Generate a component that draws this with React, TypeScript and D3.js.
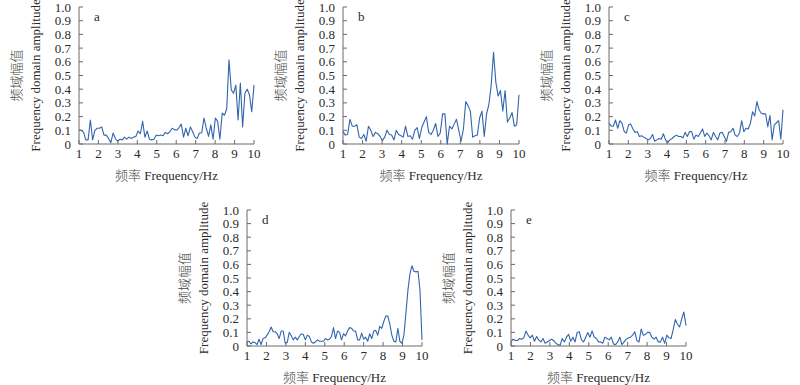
import React from "react";
import * as d3 from "d3";

// Frequency-domain amplitude, sampled evenly from 1 Hz to 10 Hz
const AMP_A = [
  0.10, 0.10, 0.085, 0.03, 0.03, 0.175, 0.03, 0.10, 0.115, 0.115,
  0.125, 0.065, 0.065, 0.04, 0.01, 0.08, 0.04, 0.02, 0.035, 0.03,
  0.05, 0.035, 0.05, 0.04, 0.05, 0.055, 0.095, 0.075, 0.165, 0.05,
  0.095, 0.035, 0.03, 0.035, 0.065, 0.06, 0.065, 0.06, 0.085, 0.075,
  0.09, 0.115, 0.105, 0.10, 0.12, 0.145, 0.05, 0.115, 0.06, 0.125,
  0.09, 0.05, 0.04, 0.08, 0.08, 0.19, 0.115, 0.055, 0.14, 0.035,
  0.19, 0.165, 0.035, 0.225, 0.21, 0.255, 0.615, 0.395, 0.37, 0.43,
  0.175, 0.445, 0.125, 0.37, 0.40, 0.36, 0.235, 0.43,
];

const AMP_B = [
  0.09, 0.065, 0.07, 0.18, 0.13, 0.13, 0.14, 0.05, 0.04, 0.07,
  0.02, 0.13, 0.10, 0.055, 0.085, 0.075, 0.055, 0.025, 0.05, 0.10,
  0.07, 0.065, 0.03, 0.10, 0.07, 0.06, 0.05, 0.13, 0.055, 0.06,
  0.035, 0.10, 0.12, 0.04, 0.12, 0.16, 0.20, 0.085, 0.07, 0.10,
  0.15, 0.055, 0.08, 0.22, 0.22, 0.0, 0.13, 0.11, 0.145, 0.18,
  0.10, 0.02, 0.11, 0.31, 0.28, 0.24, 0.05, 0.06, 0.065, 0.19,
  0.24, 0.055, 0.22, 0.29, 0.43, 0.67, 0.45, 0.35, 0.39, 0.24,
  0.39, 0.16, 0.19, 0.23, 0.13, 0.14, 0.36,
];

const AMP_C = [
  0.15, 0.13, 0.13, 0.175, 0.115, 0.17, 0.15, 0.09, 0.08, 0.14,
  0.145, 0.11, 0.085, 0.09, 0.055, 0.06, 0.05, 0.04, 0.03, 0.04,
  0.07, 0.02, 0.03, 0.04, 0.035, 0.075, 0.03, 0.01, 0.03, 0.04,
  0.055, 0.065, 0.055, 0.055, 0.045, 0.085, 0.055, 0.09, 0.09, 0.035,
  0.065, 0.055, 0.08, 0.11, 0.055, 0.08, 0.06, 0.03, 0.085, 0.055,
  0.03, 0.08, 0.085, 0.055, 0.02, 0.085, 0.09, 0.115, 0.065, 0.055,
  0.08, 0.17, 0.09, 0.115, 0.11, 0.15, 0.235, 0.205, 0.31, 0.25,
  0.225, 0.22, 0.22, 0.125, 0.21, 0.03, 0.14, 0.155, 0.17, 0.035,
  0.25,
];

const AMP_D = [
  0.03, 0.035, 0.015, 0.03, 0.025, 0.01, 0.05, 0.01, 0.055, 0.06,
  0.08, 0.105, 0.14, 0.105, 0.105, 0.09, 0.055, 0.11, 0.11, 0.02,
  0.025, 0.10, 0.075, 0.045, 0.065, 0.045, 0.07, 0.09, 0.085, 0.045,
  0.08, 0.07, 0.03, 0.02, 0.03, 0.045, 0.035, 0.035, 0.035, 0.055,
  0.045, 0.05, 0.07, 0.135, 0.055, 0.11, 0.10, 0.045, 0.09, 0.075,
  0.11, 0.135, 0.13, 0.11, 0.11, 0.045, 0.045, 0.095, 0.05, 0.065,
  0.035, 0.09, 0.055, 0.11, 0.115, 0.08, 0.145, 0.13, 0.18, 0.22,
  0.22, 0.16, 0.08, 0.035, 0.03, 0.13, 0.035, 0.02, 0.08, 0.24,
  0.41, 0.53, 0.59, 0.55, 0.545, 0.55, 0.41, 0.045,
];

const AMP_E = [
  0.03, 0.05, 0.04, 0.04, 0.055, 0.05, 0.06, 0.11, 0.08, 0.06,
  0.08, 0.035, 0.07, 0.045, 0.03, 0.055, 0.02, 0.03, 0.04, 0.05,
  0.04, 0.02, 0.01, 0.005, 0.055, 0.03, 0.065, 0.085, 0.035, 0.065,
  0.03, 0.10, 0.105, 0.045, 0.03, 0.065, 0.10, 0.065, 0.11, 0.065,
  0.055, 0.03, 0.03, 0.02, 0.065, 0.055, 0.045, 0.065, 0.015, 0.01,
  0.03, 0.065, 0.01, 0.03, 0.05, 0.06, 0.065, 0.08, 0.105, 0.04,
  0.03, 0.125, 0.08, 0.085, 0.10, 0.10, 0.065, 0.05, 0.065, 0.03,
  0.03, 0.065, 0.02, 0.08, 0.06, 0.055, 0.12, 0.195, 0.16, 0.14,
  0.20, 0.25, 0.15,
];

const X_TICKS = [1, 2, 3, 4, 5, 6, 7, 8, 9, 10];
const Y_TICKS = [0, 0.1, 0.2, 0.3, 0.4, 0.5, 0.6, 0.7, 0.8, 0.9, 1.0];
const Y_TICK_LABELS = ["0", "0.1", "0.2", "0.3", "0.4", "0.5", "0.6", "0.7", "0.8", "0.9", "1.0"];
const PANEL_LABELS = ["a", "b", "c", "d", "e"];
const SERIES = [AMP_A, AMP_B, AMP_C, AMP_D, AMP_E];

const X_TITLE_CN = "频率";
const X_TITLE_EN = "Frequency/Hz";
const Y_TITLE_CN = "频域幅值";
const Y_TITLE_EN = "Frequency domain amplitude";

// layout (plot-area boxes)
const BOXES = [
  { left: 79, right: 254, top: 7, bottom: 144 },
  { left: 343, right: 519, top: 7, bottom: 144 },
  { left: 609, right: 783, top: 7, bottom: 144 },
  { left: 247, right: 422, top: 210, bottom: 346 },
  { left: 511, right: 686, top: 210, bottom: 346 },
];

const FONT = "'Liberation Serif', 'Times New Roman', serif";
const CJK_FONT = "'Noto Sans CJK SC', sans-serif";
const LINE_COLOR = "#3265ad";
const AXIS_COLOR = "#6b6b6b";
const TEXT_COLOR = "#2a2a2a";

function Panel({ idx }: { idx: number }) {
  const box = BOXES[idx];
  const data = SERIES[idx];
  const n = data.length;
  const x = d3.scaleLinear().domain([1, 10]).range([box.left, box.right]);
  const y = d3.scaleLinear().domain([0, 1]).range([box.bottom, box.top]);
  const line = d3
    .line<number>()
    .x((_, i) => x(1 + (9 * i) / (n - 1)))
    .y((d) => y(d));
  const midY = (box.top + box.bottom) / 2;
  const midX = (box.left + box.right) / 2;
  return (
    <g>
      <line x1={box.left} x2={box.left} y1={y(1)} y2={y(0)} stroke={AXIS_COLOR} strokeWidth={1} />
      <line x1={x(1)} x2={x(10)} y1={y(0)} y2={y(0)} stroke={AXIS_COLOR} strokeWidth={1} />
      {Y_TICKS.map((t, i) => (
        <g key={"y" + i}>
          <line x1={box.left} x2={box.left + 4} y1={y(t)} y2={y(t)} stroke={AXIS_COLOR} strokeWidth={1} />
          <text x={box.left - 8} y={y(t)} dy="0.35em" textAnchor="end" fontSize={13} fontFamily={FONT} fill={TEXT_COLOR}>
            {Y_TICK_LABELS[i]}
          </text>
        </g>
      ))}
      {X_TICKS.map((t) => (
        <g key={"x" + t}>
          <line x1={x(t)} x2={x(t)} y1={y(0)} y2={y(0) - 4} stroke={AXIS_COLOR} strokeWidth={1} />
          <text x={x(t)} y={y(0) + 14} textAnchor="middle" fontSize={13} fontFamily={FONT} fill={TEXT_COLOR}>
            {t}
          </text>
        </g>
      ))}
      <path d={line(data) || ""} fill="none" stroke={LINE_COLOR} strokeWidth={1.1} strokeLinejoin="round" />
      <text x={box.left + 15} y={box.top + 14} fontSize={13} fontFamily={FONT} fill={TEXT_COLOR}>
        {PANEL_LABELS[idx]}
      </text>
      <text
        transform={`translate(${box.left - 58},${midY}) rotate(-90)`}
        textAnchor="middle"
        fontSize={13}
        fontFamily={CJK_FONT}
        fontWeight={300}
        fill="#444"
      >
        {Y_TITLE_CN}
      </text>
      <text
        transform={`translate(${box.left - 39},${midY}) rotate(-90)`}
        textAnchor="middle"
        fontSize={13}
        fontFamily={FONT}
        fill={TEXT_COLOR}
      >
        {Y_TITLE_EN}
      </text>
      <text x={midX} y={box.bottom + 36} textAnchor="middle" fontSize={13} fill={TEXT_COLOR}>
        <tspan fontFamily={CJK_FONT} fontWeight={300} fill="#444">{X_TITLE_CN}</tspan>
        <tspan fontFamily={FONT}>{" " + X_TITLE_EN}</tspan>
      </text>
    </g>
  );
}

export default function App() {
  return (
    <div style={{ position: "absolute", left: 0, top: 0, width: 800, height: 385, background: "#fff" }}>
      <svg width={800} height={385} style={{ display: "block" }}>
        <rect width={800} height={385} fill="#fff" />
        {SERIES.map((_, i) => (
          <Panel key={i} idx={i} />
        ))}
      </svg>
    </div>
  );
}
